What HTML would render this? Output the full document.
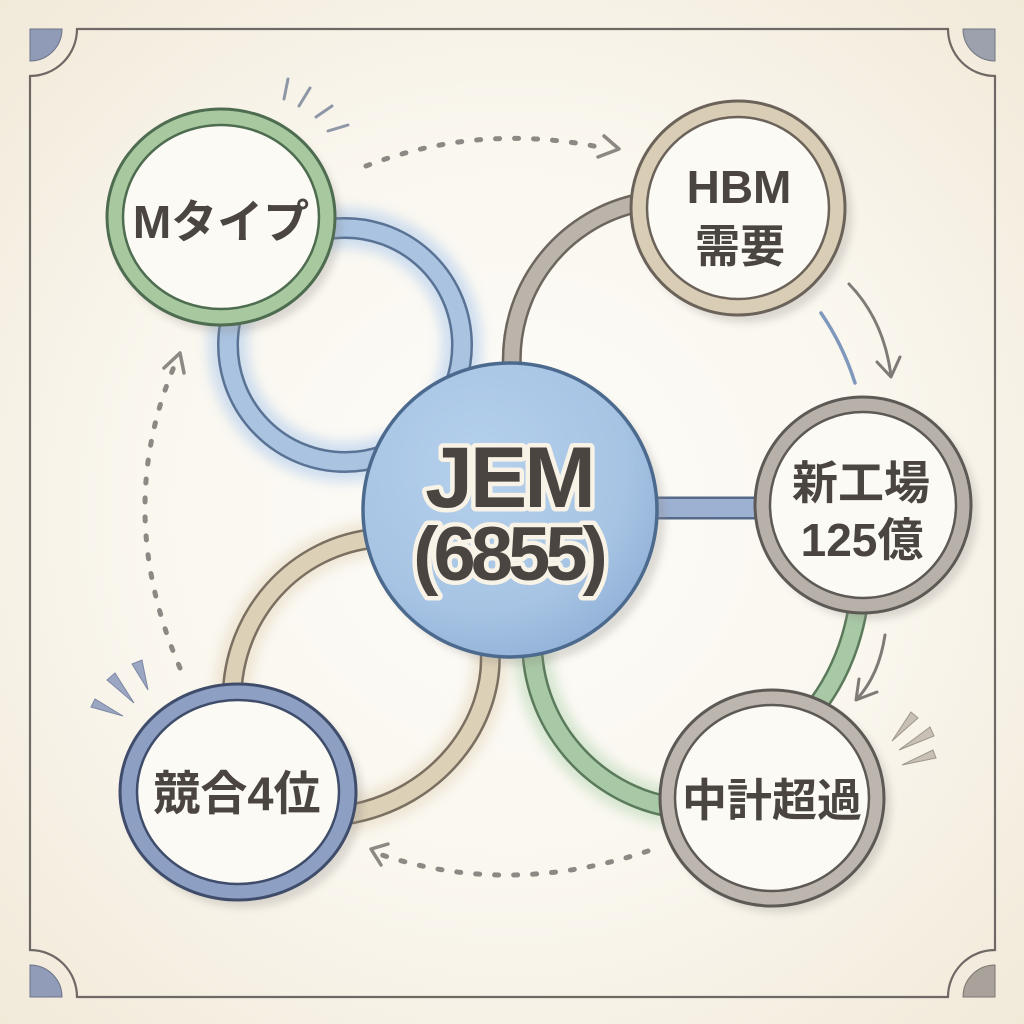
<!DOCTYPE html>
<html><head><meta charset="utf-8"><style>
html,body{margin:0;padding:0;background:#f5efe2;}
svg{display:block;}
.t{font-family:"Liberation Sans","Noto Sans CJK JP",sans-serif;font-weight:bold;fill:#4b4542;text-anchor:middle;}
</style></head><body>
<svg width="1024" height="1024" viewBox="0 0 1024 1024" xmlns="http://www.w3.org/2000/svg">
<defs>
 <radialGradient id="bg" cx="50%" cy="50%" r="72%">
  <stop offset="0" stop-color="#fdfcf9"/>
  <stop offset="0.5" stop-color="#faf7ef"/>
  <stop offset="1" stop-color="#f1e9d8"/>
 </radialGradient>
 <radialGradient id="jem" cx="40%" cy="35%" r="70%">
  <stop offset="0" stop-color="#b4d0ec"/>
  <stop offset="0.7" stop-color="#a7c4e4"/>
  <stop offset="1" stop-color="#92b1d7"/>
 </radialGradient>
 <filter id="b6" x="-30%" y="-30%" width="160%" height="160%"><feGaussianBlur stdDeviation="6"/></filter>
 <filter id="b4" x="-30%" y="-30%" width="160%" height="160%"><feGaussianBlur stdDeviation="4"/></filter>
</defs>

<rect width="1024" height="1024" fill="url(#bg)"/>

<!-- frame -->
<path d="M 77 29 L 948 29 A 47 47 0 0 0 995 76 L 995 950 A 47 47 0 0 0 948 997 L 77 997 A 47 47 0 0 0 30 950 L 30 76 A 47 47 0 0 0 77 29 Z" fill="none" stroke="#6e6964" stroke-width="2.2"/>
<path d="M 30 29 L 62 29 A 32 32 0 0 1 30 61 Z" fill="#8f9bb7" stroke="#6c7288" stroke-width="1"/>
<path d="M 995 29 L 995 61 A 32 32 0 0 1 963 29 Z" fill="#9ca1ad" stroke="#72757f" stroke-width="1"/>
<path d="M 30 997 L 30 965 A 32 32 0 0 1 62 997 Z" fill="#909cb8" stroke="#6c7288" stroke-width="1"/>
<path d="M 995 997 L 963 997 A 32 32 0 0 1 995 965 Z" fill="#a8a29b" stroke="#7a756f" stroke-width="1"/>

<!-- emphasis strokes near M -->
<g stroke="#8e97a6" stroke-width="3" stroke-linecap="round" fill="none">
 <line x1="288" y1="79" x2="284" y2="99"/>
 <line x1="310" y1="88" x2="299" y2="106"/>
 <line x1="332" y1="106" x2="316" y2="117"/>
 <line x1="348" y1="125" x2="328" y2="131"/>
</g>
<!-- wedges near 競合 -->
<g fill="#9aa6c2" stroke="#7d88a5" stroke-width="1">
 <polygon points="132,664 142,660 148,690"/>
 <polygon points="107,680 115,673 134,703"/>
 <polygon points="91,707 95,699 123,716"/>
</g>
<!-- wedges near 中計 -->
<g fill="#c8c0b4" stroke="#9d968c" stroke-width="1">
 <polygon points="911,712 918,718 892,741"/>
 <polygon points="930,727 934,736 899,750"/>
 <polygon points="933,750 936,758 902,765"/>
</g>

<!-- dotted arrows -->
<g fill="none" stroke="#8d8883" stroke-width="5" stroke-linecap="round">
 <path d="M 366 166 Q 480 122 604 148" stroke-dasharray="4 15"/>
 <path d="M 180 668 Q 112 510 176 362" stroke-dasharray="4 15"/>
 <path d="M 648 851 Q 510 897 382 855" stroke-dasharray="4 15"/>
</g>
<g fill="none" stroke="#8d8883" stroke-width="3.5" stroke-linecap="round" stroke-linejoin="round">
 <polyline points="604,136 619,149 598,157"/>
 <polyline points="164,368 180,353 184,373"/>
 <polyline points="388,844 371,849 381,865"/>
</g>

<!-- solid small arrows -->
<g fill="none" stroke="#7f7a75" stroke-width="3" stroke-linecap="round" stroke-linejoin="round">
 <path d="M 849 284 Q 884 320 891 376"/>
 <polyline points="877,362 891,377 900,357"/>
 <path d="M 885 635 Q 879 675 857 699"/>
 <polyline points="859,679 856,700 877,692"/>
</g>
<path d="M 821 313 Q 843 345 855 383" fill="none" stroke="#7f98bb" stroke-width="3.5" stroke-linecap="round"/>

<!-- glows -->
<circle cx="345" cy="345" r="117" fill="none" stroke="#a9c7ec" stroke-width="40" opacity="0.55" filter="url(#b6)"/>
<path d="M 532 642 A 168 168 0 0 0 671 807" fill="none" stroke="#b5d6b3" stroke-width="38" opacity="0.55" filter="url(#b6)"/>
<path d="M 232 700 C 232 615, 295 545, 378 538" fill="none" stroke="#e2d3b6" stroke-width="36" opacity="0.5" filter="url(#b6)"/>
<path d="M 490 650 C 495 720, 440 800, 345 815" fill="none" stroke="#e2d3b6" stroke-width="36" opacity="0.5" filter="url(#b6)"/>
<path d="M 650 508 L 762 508" stroke="#a9bfe2" stroke-width="36" opacity="0.5" filter="url(#b6)"/>

<!-- connectors -->
<circle cx="345" cy="345" r="117" fill="none" stroke="#5a7395" stroke-width="22"/>
<circle cx="345" cy="345" r="117" fill="none" stroke="#a9c3e1" stroke-width="17"/>

<path d="M 512 368 A 160 160 0 0 1 634 204" fill="none" stroke="#6d665e" stroke-width="20"/>
<path d="M 512 368 A 160 160 0 0 1 634 204" fill="none" stroke="#bbb4ab" stroke-width="15"/>

<path d="M 650 508 L 762 508" stroke="#56698a" stroke-width="23"/>
<path d="M 650 508 L 762 508" stroke="#9db1d3" stroke-width="18"/>

<path d="M 532 642 A 168 168 0 0 0 671 807" fill="none" stroke="#5b7a5c" stroke-width="22"/>
<path d="M 532 642 A 168 168 0 0 0 671 807" fill="none" stroke="#a8c9a5" stroke-width="17"/>

<path d="M 859 600 Q 850 665 812 712" fill="none" stroke="#5b7a5c" stroke-width="21"/>
<path d="M 859 600 Q 850 665 812 712" fill="none" stroke="#a8c9a5" stroke-width="16"/>

<path d="M 232 700 C 232 615, 295 545, 378 538" fill="none" stroke="#7a6f60" stroke-width="21"/>
<path d="M 232 700 C 232 615, 295 545, 378 538" fill="none" stroke="#dcd0b7" stroke-width="16"/>
<path d="M 490 650 C 495 720, 440 800, 345 815" fill="none" stroke="#7a6f60" stroke-width="21"/>
<path d="M 490 650 C 495 720, 440 800, 345 815" fill="none" stroke="#dcd0b7" stroke-width="16"/>

<!-- node shadows -->
<g fill="#8c8782" opacity="0.28" filter="url(#b4)">
 <ellipse cx="227" cy="225" rx="114" ry="108"/>
 <circle cx="745" cy="216" r="107"/>
 <circle cx="518" cy="518" r="147"/>
 <circle cx="870" cy="512" r="108"/>
 <ellipse cx="779" cy="805" rx="112" ry="108"/>
 <ellipse cx="245" cy="800" rx="118" ry="108"/>
</g>

<!-- nodes -->
<ellipse cx="221" cy="217" rx="114" ry="108" fill="#a8c8a0" stroke="#4e6c4f" stroke-width="3"/>
<ellipse cx="221" cy="217" rx="98" ry="92" fill="#fcfaf4" stroke="#4e6c4f" stroke-width="2.5"/>

<circle cx="738" cy="208" r="107" fill="#d9cdb5" stroke="#6b635a" stroke-width="3"/>
<circle cx="738" cy="208" r="91" fill="#fcfaf4" stroke="#6b635a" stroke-width="2.5"/>

<circle cx="863" cy="505" r="108" fill="#b7b1aa" stroke="#5d5955" stroke-width="3"/>
<circle cx="863" cy="505" r="93" fill="#fcfaf4" stroke="#5d5955" stroke-width="2.5"/>

<ellipse cx="772" cy="798" rx="112" ry="108" fill="#bcb6ae" stroke="#5d5955" stroke-width="3"/>
<ellipse cx="772" cy="798" rx="97" ry="93" fill="#fcfaf4" stroke="#5d5955" stroke-width="2.5"/>

<ellipse cx="238" cy="792" rx="118" ry="108" fill="#8e9fc4" stroke="#3f4d6b" stroke-width="3"/>
<ellipse cx="238" cy="792" rx="101" ry="92" fill="#fcfaf4" stroke="#3f4d6b" stroke-width="2.5"/>

<circle cx="510" cy="510" r="147" fill="url(#jem)" stroke="#4c6a8e" stroke-width="3.5"/>

<!-- text -->
<text class="t" x="221" y="238" font-size="46">Mタイプ</text>
<text class="t" x="739" y="203" font-size="46">HBM</text>
<text class="t" x="740" y="262" font-size="45">需要</text>
<text class="t" x="861" y="499" font-size="46">新工場</text>
<text class="t" x="862" y="556" font-size="46">125億</text>
<text class="t" x="772" y="816" font-size="45">中計超過</text>
<text class="t" x="237" y="810" font-size="47">競合4位</text>
<g class="t" stroke="#f8f3e6" stroke-width="9" stroke-linejoin="round" paint-order="stroke" style="paint-order:stroke">
 <text x="509" y="507" font-size="86" letter-spacing="-3">JEM</text>
 <text x="508" y="580" font-size="76" letter-spacing="-5">(6855)</text>
</g>
</svg>
</body></html>
